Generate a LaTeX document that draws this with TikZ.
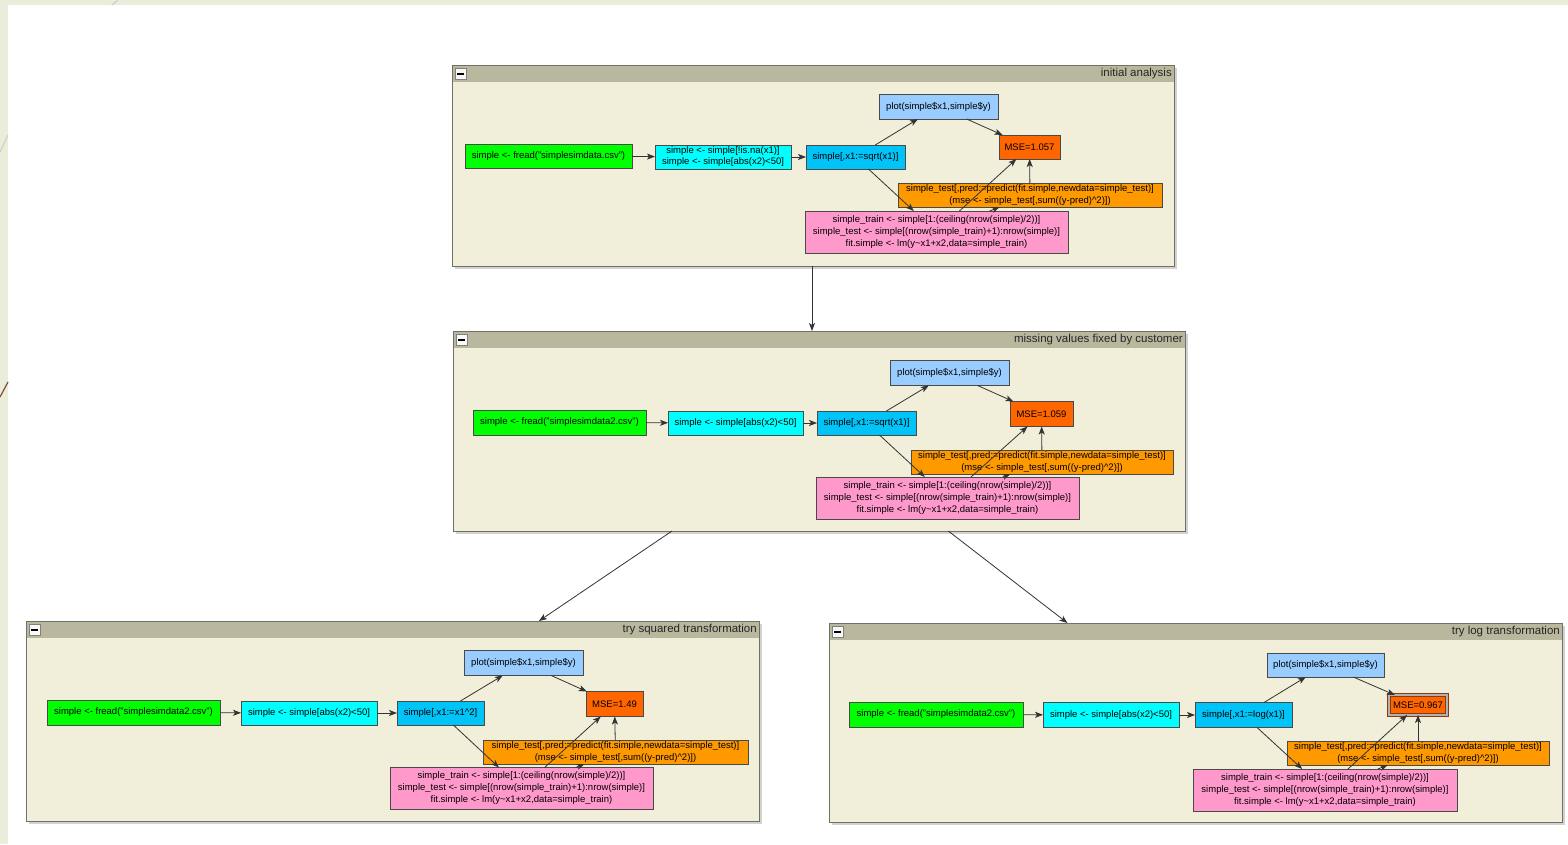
\documentclass[tikz,border=0pt]{standalone}
\usepackage{fontspec}
\setmainfont{Liberation Sans}
\usetikzlibrary{arrows.meta,calc}
\definecolor{bgstrip}{HTML}{E9EDD9}
\definecolor{panelbody}{HTML}{F1EED9}
\definecolor{panelhead}{HTML}{B9B79E}
\definecolor{panelborder}{HTML}{707064}
\definecolor{nodeborder}{HTML}{4A4A4A}
\definecolor{edgecol}{HTML}{333333}
\definecolor{cgreen}{HTML}{00FF00}
\definecolor{ccyan}{HTML}{00FFFF}
\definecolor{cblue}{HTML}{00C4F8}
\definecolor{cplot}{HTML}{99CCFF}
\definecolor{cmse}{HTML}{FF6600}
\definecolor{corange}{HTML}{FF9900}
\definecolor{cpink}{HTML}{FF99CC}
\definecolor{msehl}{HTML}{8A3A10}
\newcommand\pedges[1]{%
  \draw[arr] (a#1) -- (b#1);
  \draw[arr] (b#1) -- (c#1);
  \draw[arr] (c#1) -- (d#1);
  \draw[arr] (c#1) -- (g#1);
  \draw[arr] (d#1) -- (e#1);
  \draw[arr] (g#1) -- (e#1);
  \draw[arr] (f#1) -- (e#1);
  \draw[arr] (g#1) -- (f#1);
}
\newcommand\mkpanel[6]{% name, cx, cy, w, h, title
  \path node[minimum width=#4, minimum height=#5, inner sep=0pt, outer sep=0pt] (#1) at (#2,#3) {};
  \fill[gray!35] ($(#1.north west)+(3,3)$) rectangle ($(#1.south east)+(3,3)$);
  \fill[panelbody] (#1.north west) rectangle (#1.south east);
  \fill[panelhead] (#1.north west) rectangle ($(#1.north east)+(0,17)$);
  \draw[panelborder, line width=1pt] (#1.north west) rectangle (#1.south east);
  \node[ptitle, anchor=east] (#1t) at ($(#1.north east)+(-2,8.5)$) {#6};
  \node[minusbtn] (#1m) at ($(#1.north west)+(8.5,8.5)$) {};
  \fill[black] ($(#1m.center)+(-3.5,-1)$) rectangle ($(#1m.center)+(3.5,1)$);
}
\begin{document}
\begin{tikzpicture}[x=1pt,y=-1pt,
  box/.style={draw=nodeborder, line width=0.9pt, inner sep=0pt, outer sep=0pt,
    align=center, font=\fontsize{9.5}{12}\selectfont, text=black},
  arr/.style={draw=edgecol, line width=0.8pt, -{Stealth[length=8pt,width=6pt,inset=2pt]}},
  ptitle/.style={font=\fontsize{11.5}{13}\selectfont, text=black!85, inner sep=0pt},
  minusbtn/.style={draw=gray, fill=white!95!gray, minimum size=11pt, inner sep=0pt, line width=0.8pt}
]
\useasboundingbox (0,0) rectangle (1568,844);
\fill[bgstrip] (0,0) rectangle (1568,844);
\fill[white] (8,5) rectangle (1568,844);
\draw[gray!40, line width=1pt] (112,5) -- (118,0);
\draw[gray!40, line width=1pt] (0,152) -- (8,135);
\draw[msehl!70!gray, line width=1.2pt] (0,397) -- (8,382);

% ---------------- panels
\mkpanel{p1}{813}{165.5}{722}{201}{initial analysis}
\mkpanel{p2}{819}{431}{732}{200}{missing values fixed by customer}
\mkpanel{p3}{392.5}{721}{733}{200}{try squared transformation}
\mkpanel{p4}{1195.5}{722.5}{733}{199}{try log transformation}

% ---------------- panel 1
\node[box, fill=cgreen, minimum width=167, minimum height=24] (a1) at (548.5,156) {simple <- fread("simplesimdata.csv")};
\node[box, fill=ccyan, minimum width=136, minimum height=24, font=\fontsize{9.5}{11}\selectfont] (b1) at (723,157) {simple <- simple[!is.na(x1)]\\simple <- simple[abs(x2)<50]};
\node[box, fill=cblue, minimum width=99, minimum height=24] (c1) at (855.5,157) {simple[,x1:=sqrt(x1)]};
\node[box, fill=cplot, minimum width=119, minimum height=25] (d1) at (938.5,106.5) {plot(simple\$x1,simple\$y)};
\node[box, fill=cmse, minimum width=61, minimum height=24] (e1) at (1029.5,147) {MSE=1.057};
\node[box, fill=corange, minimum width=264, minimum height=24] (f1) at (1030,195) {simple\_test[,pred:=predict(fit.simple,newdata=simple\_test)]\\(mse <- simple\_test[,sum((y-pred)\textasciicircum 2)])};
\node[box, fill=cpink, minimum width=263, minimum height=42] (g1) at (936.5,232) {simple\_train <- simple[1:(ceiling(nrow(simple)/2))]\\simple\_test <- simple[(nrow(simple\_train)+1):nrow(simple)]\\fit.simple <- lm(y\textasciitilde x1+x2,data=simple\_train)};
\pedges{1}

% ---------------- panel 2
\node[box, fill=cgreen, minimum width=173, minimum height=25] (a2) at (559.5,422.5) {simple <- fread("simplesimdata2.csv")};
\node[box, fill=ccyan, minimum width=135, minimum height=24] (b2) at (735.5,423) {simple <- simple[abs(x2)<50]};
\node[box, fill=cblue, minimum width=99, minimum height=24] (c2) at (866.5,423) {simple[,x1:=sqrt(x1)]};
\node[box, fill=cplot, minimum width=119, minimum height=25] (d2) at (949.5,373) {plot(simple\$x1,simple\$y)};
\node[box, fill=cmse, minimum width=63, minimum height=25] (e2) at (1041.5,414) {MSE=1.059};
\node[box, fill=corange, minimum width=262, minimum height=24] (f2) at (1042,462) {simple\_test[,pred:=predict(fit.simple,newdata=simple\_test)]\\(mse <- simple\_test[,sum((y-pred)\textasciicircum 2)])};
\node[box, fill=cpink, minimum width=263, minimum height=42] (g2) at (947.5,498) {simple\_train <- simple[1:(ceiling(nrow(simple)/2))]\\simple\_test <- simple[(nrow(simple\_train)+1):nrow(simple)]\\fit.simple <- lm(y\textasciitilde x1+x2,data=simple\_train)};
\pedges{2}

% ---------------- panel 3
\node[box, fill=cgreen, minimum width=173, minimum height=25] (a3) at (133.5,712.5) {simple <- fread("simplesimdata2.csv")};
\node[box, fill=ccyan, minimum width=136, minimum height=24] (b3) at (309,713) {simple <- simple[abs(x2)<50]};
\node[box, fill=cblue, minimum width=87, minimum height=24] (c3) at (440.5,713) {simple[,x1:=x1\textasciicircum 2]};
\node[box, fill=cplot, minimum width=119, minimum height=25] (d3) at (523.5,663) {plot(simple\$x1,simple\$y)};
\node[box, fill=cmse, minimum width=57, minimum height=25] (e3) at (614.5,704) {MSE=1.49};
\node[box, fill=corange, minimum width=265, minimum height=24] (f3) at (615.5,752) {simple\_test[,pred:=predict(fit.simple,newdata=simple\_test)]\\(mse <- simple\_test[,sum((y-pred)\textasciicircum 2)])};
\node[box, fill=cpink, minimum width=263, minimum height=42] (g3) at (521.5,788.5) {simple\_train <- simple[1:(ceiling(nrow(simple)/2))]\\simple\_test <- simple[(nrow(simple\_train)+1):nrow(simple)]\\fit.simple <- lm(y\textasciitilde x1+x2,data=simple\_train)};
\pedges{3}

% ---------------- panel 4
\node[box, fill=cgreen, minimum width=174, minimum height=25] (a4) at (936,714.5) {simple <- fread("simplesimdata2.csv")};
\node[box, fill=ccyan, minimum width=136, minimum height=25] (b4) at (1111,715) {simple <- simple[abs(x2)<50]};
\node[box, fill=cblue, minimum width=97, minimum height=25] (c4) at (1243.5,715) {simple[,x1:=log(x1)]};
\node[box, fill=cplot, minimum width=117, minimum height=24] (d4) at (1325.5,665) {plot(simple\$x1,simple\$y)};
\node[box, fill=cmse, minimum width=58, minimum height=20, draw=msehl, line width=1pt, double=gray!60, double distance=1.2pt] (e4) at (1418,705) {MSE=0.967};
\node[box, fill=corange, minimum width=262, minimum height=24] (f4) at (1418,753) {simple\_test[,pred:=predict(fit.simple,newdata=simple\_test)]\\(mse <- simple\_test[,sum((y-pred)\textasciicircum 2)])};
\node[box, fill=cpink, minimum width=264, minimum height=42] (g4) at (1325,790) {simple\_train <- simple[1:(ceiling(nrow(simple)/2))]\\simple\_test <- simple[(nrow(simple\_train)+1):nrow(simple)]\\fit.simple <- lm(y\textasciitilde x1+x2,data=simple\_train)};
\pedges{4}

% ---------------- panel connectors
\draw[arr] ([xshift=-1pt]p1.south) -- ([xshift=-1pt]p1.south |- p2.north);
\draw[arr] (p2) -- (p3);
\draw[arr] (p2) -- (p4);
\end{tikzpicture}
\end{document}
